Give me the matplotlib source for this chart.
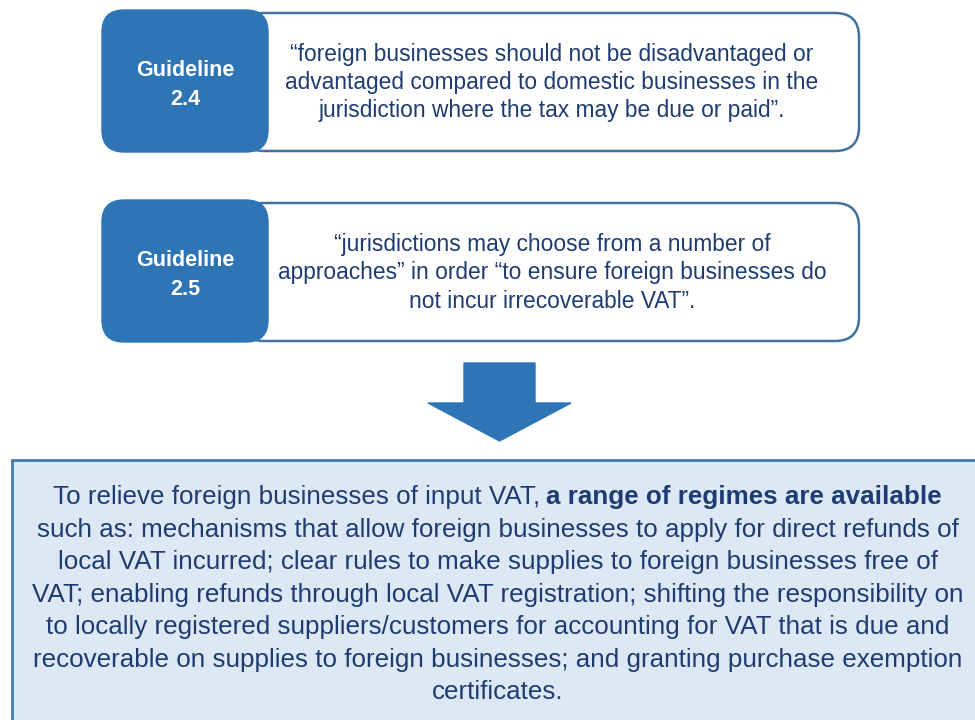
import matplotlib.pyplot as plt
from matplotlib.patches import FancyBboxPatch, Polygon, Rectangle

labels = ["Guideline\n2.4", "Guideline\n2.5"]
quotes = [
    ["\u201cforeign businesses should not be disadvantaged or",
     "advantaged compared to domestic businesses in the",
     "jurisdiction where the tax may be due or paid\u201d."],
    ["\u201cjurisdictions may choose from a number of",
     "approaches\u201d in order \u201cto ensure foreign businesses do",
     "not incur irrecoverable VAT\u201d."],
]
lead_plain = "To relieve foreign businesses of input VAT,"
lead_bold = "a range of regimes are available"
body_lines = [
    "such as: mechanisms that allow foreign businesses to apply for direct refunds of",
    "local VAT incurred; clear rules to make supplies to foreign businesses free of",
    "VAT; enabling refunds through local VAT registration; shifting the responsibility on",
    "to locally registered suppliers/customers for accounting for VAT that is due and",
    "recoverable on supplies to foreign businesses; and granting purchase exemption",
    "certificates.",
]

blue = "#2e75b6"
edge = "#41719c"
navy = "#1e3c72"

fig = plt.figure(figsize=(9.75, 7.2), dpi=100)
ax = fig.add_axes([0, 0, 1, 1])
ax.set_xlim(0, 975)
ax.set_ylim(720, 0)
ax.axis("off")

# two guideline rows
row_top = [12, 202]
for i, top in enumerate(row_top):
    h = 140
    white = FancyBboxPatch((240, top + 1), 619, h - 2,
                           boxstyle="round,pad=0,rounding_size=24",
                           fc="white", ec=edge, lw=1.8, zorder=1)
    ax.add_patch(white)
    dark = FancyBboxPatch((102, top - 2), 166, h + 2,
                          boxstyle="round,pad=0,rounding_size=22",
                          fc=blue, ec=blue, lw=1, zorder=2)
    ax.add_patch(dark)
    cy = top + h / 2
    ax.text(185, cy + 3, labels[i], ha="center", va="center", color="white",
            fontsize=15.5, fontweight="bold", linespacing=1.55,
            family="Liberation Sans", zorder=3)
    for j, line in enumerate(quotes[i]):
        ax.text(552, cy - 27 + j * 28, line, ha="center", va="center",
                color=navy, fontsize=16.4, family="Liberation Sans", zorder=3)

# arrow pointing down
arrow = Polygon([(464, 363), (535, 363), (535, 403), (571, 403),
                 (499.5, 441), (428, 403), (464, 403)],
                closed=True, fc=blue, ec=blue, lw=1)
ax.add_patch(arrow)

# bottom summary box
ax.add_patch(Rectangle((12, 460), 975, 280, fc="#dde8f5", ec="#4a78aa", lw=2))

fs = 18.7
fig.canvas.draw()
r = fig.canvas.get_renderer()
t1 = ax.text(0, 497, lead_plain, ha="left", va="center", color=navy,
             fontsize=fs, family="Liberation Sans")
t2 = ax.text(0, 497, lead_bold, ha="left", va="center", color=navy,
             fontsize=fs, fontweight="bold", family="Liberation Sans")
w1 = t1.get_window_extent(r).width
w2 = t2.get_window_extent(r).width
gap = 6
x0 = 497 - (w1 + gap + w2) / 2
t1.set_x(x0)
t2.set_x(x0 + w1 + gap)

for k, line in enumerate(body_lines):
    ax.text(498, 530 + k * 32.4, line, ha="center", va="center",
            color=navy, fontsize=fs, family="Liberation Sans")

fig.savefig("out.png", dpi=100)
plt.close(fig)
